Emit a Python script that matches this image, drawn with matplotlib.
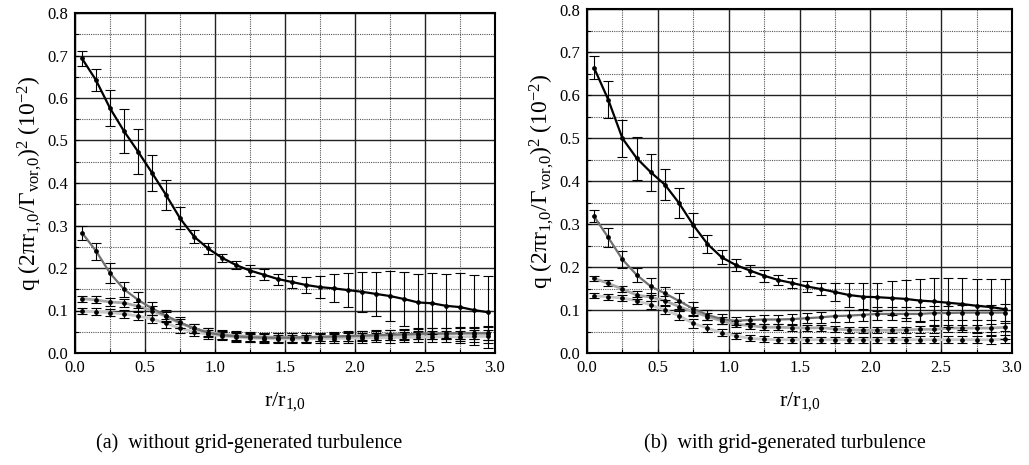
import numpy as np
import matplotlib
matplotlib.use("Agg")
import matplotlib.pyplot as plt
from matplotlib.ticker import MultipleLocator

plt.rcParams['font.family'] = ['Liberation Serif', 'DejaVu Serif']
plt.rcParams['mathtext.fontset'] = 'custom'
plt.rcParams['mathtext.rm'] = 'Liberation Serif'
plt.rcParams['mathtext.it'] = 'Liberation Serif:italic'

r = [0.05, 0.15, 0.25, 0.35, 0.45, 0.55, 0.65, 0.75, 0.85, 0.95,
     1.05, 1.15, 1.25, 1.35, 1.45, 1.55, 1.65, 1.75, 1.85, 1.95,
     2.05, 2.15, 2.25, 2.35, 2.45, 2.55, 2.65, 2.75, 2.85, 2.95]

# ---- panel (a): without grid-generated turbulence ----
a_black = [0.693, 0.642, 0.576, 0.522, 0.474, 0.424, 0.372, 0.317, 0.274, 0.246,
           0.224, 0.207, 0.194, 0.184, 0.174, 0.167, 0.160, 0.155, 0.152, 0.148,
           0.144, 0.139, 0.134, 0.127, 0.119, 0.117, 0.111, 0.108, 0.101, 0.096]
a_black_err = [0.018, 0.026, 0.042, 0.052, 0.052, 0.042, 0.036, 0.026, 0.016, 0.012,
               0.010, 0.010, 0.012, 0.013, 0.013, 0.015, 0.018, 0.026, 0.033, 0.040,
               0.047, 0.052, 0.058, 0.064, 0.068, 0.072, 0.076, 0.080, 0.082, 0.085]
a_gray = [0.283, 0.240, 0.188, 0.150, 0.125, 0.105, 0.088, 0.072, 0.058, 0.048,
          0.042, 0.039, 0.037, 0.036, 0.036, 0.036, 0.037, 0.038, 0.039, 0.040,
          0.041, 0.042, 0.043, 0.044, 0.045, 0.046, 0.046, 0.047, 0.047, 0.047]
a_gray_err = [0.017, 0.020, 0.023, 0.018, 0.018, 0.015, 0.014, 0.012, 0.011, 0.010,
              0.010, 0.010, 0.010, 0.010, 0.010, 0.010, 0.010, 0.010, 0.011, 0.011,
              0.011, 0.012, 0.012, 0.012, 0.013, 0.013, 0.014, 0.014, 0.015, 0.016]
a_light1 = [0.128, 0.125, 0.120, 0.118, 0.110, 0.100, 0.086, 0.070, 0.058, 0.049,
            0.044, 0.041, 0.039, 0.038, 0.037, 0.037, 0.037, 0.038, 0.038, 0.039,
            0.040, 0.041, 0.042, 0.043, 0.044, 0.045, 0.045, 0.046, 0.046, 0.046]
a_light2 = [0.099, 0.097, 0.095, 0.092, 0.087, 0.080, 0.070, 0.058, 0.050, 0.044,
            0.040, 0.037, 0.035, 0.034, 0.033, 0.033, 0.033, 0.034, 0.034, 0.035,
            0.035, 0.036, 0.036, 0.037, 0.037, 0.038, 0.038, 0.038, 0.039, 0.039]
a_light_err = [0.007, 0.008, 0.009, 0.010, 0.010, 0.010, 0.010, 0.010, 0.010, 0.010,
               0.010, 0.010, 0.010, 0.010, 0.010, 0.010, 0.010, 0.010, 0.010, 0.011,
               0.011, 0.011, 0.012, 0.012, 0.012, 0.013, 0.013, 0.014, 0.014, 0.015]

# ---- panel (b): with grid-generated turbulence ----
b_black = [0.664, 0.590, 0.500, 0.454, 0.421, 0.392, 0.349, 0.298, 0.254, 0.223,
           0.205, 0.192, 0.180, 0.170, 0.163, 0.155, 0.149, 0.142, 0.135, 0.131,
           0.130, 0.128, 0.126, 0.122, 0.120, 0.117, 0.114, 0.110, 0.107, 0.102]
b_black_err = [0.027, 0.043, 0.043, 0.050, 0.043, 0.036, 0.035, 0.028, 0.020, 0.016,
               0.013, 0.013, 0.014, 0.012, 0.011, 0.012, 0.013, 0.020, 0.027, 0.031,
               0.033, 0.040, 0.045, 0.050, 0.055, 0.057, 0.060, 0.063, 0.065, 0.070]
b_gray = [0.318, 0.269, 0.218, 0.182, 0.155, 0.139, 0.121, 0.103, 0.089, 0.079,
          0.075, 0.077, 0.078, 0.078, 0.079, 0.081, 0.083, 0.086, 0.087, 0.089,
          0.091, 0.091, 0.091, 0.091, 0.093, 0.093, 0.094, 0.094, 0.094, 0.094]
b_gray_err = [0.014, 0.022, 0.020, 0.016, 0.020, 0.015, 0.018, 0.015, 0.012, 0.011,
              0.010, 0.010, 0.010, 0.011, 0.011, 0.012, 0.012, 0.013, 0.014, 0.014,
              0.015, 0.015, 0.016, 0.016, 0.017, 0.017, 0.018, 0.018, 0.018, 0.019]
b_light1 = [0.174, 0.162, 0.149, 0.135, 0.130, 0.122, 0.108, 0.096, 0.085, 0.075,
            0.067, 0.064, 0.060, 0.060, 0.059, 0.058, 0.059, 0.056, 0.054, 0.053,
            0.053, 0.053, 0.054, 0.055, 0.055, 0.058, 0.058, 0.058, 0.058, 0.060]
b_light2 = [0.133, 0.131, 0.128, 0.122, 0.112, 0.100, 0.087, 0.069, 0.058, 0.047,
            0.040, 0.034, 0.032, 0.031, 0.031, 0.031, 0.031, 0.031, 0.031, 0.031,
            0.031, 0.031, 0.031, 0.031, 0.031, 0.031, 0.031, 0.031, 0.031, 0.032]
b_light_err = [0.006, 0.007, 0.008, 0.009, 0.010, 0.010, 0.010, 0.010, 0.009, 0.008,
               0.007, 0.007, 0.007, 0.007, 0.007, 0.007, 0.007, 0.007, 0.007, 0.007,
               0.007, 0.007, 0.007, 0.008, 0.008, 0.008, 0.008, 0.008, 0.009, 0.009]

xticks = [0.0, 0.5, 1.0, 1.5, 2.0, 2.5, 3.0]
yticks = [0.0, 0.1, 0.2, 0.3, 0.4, 0.5, 0.6, 0.7, 0.8]
ylabel = r'q (2πr$_{1{,}0}$/Γ$_{\mathrm{vor{,}0}}$)$^{2}$ (10$^{\mathrm{-}2}$)'
xlabel = r'r/r$_{1{,}0}$'
captions = ['(a)  without grid-generated turbulence', '(b)  with grid-generated turbulence']

fig = plt.figure(figsize=(10.29, 4.65), dpi=100)
W, H = 1029, 465
axA = fig.add_axes([75 / W, 1 - 353 / H, 420 / W, 340 / H])
axB = fig.add_axes([587 / W, 1 - 353 / H, 425 / W, 343.5 / H])

series_styles = [('#000000', 1.6, 3), ('#707070', 1.6, 2), ('#a9a9a9', 2.0, 1), ('#c8c8c8', 2.0, 0)]


def draw(ax, datasets):
    for (y, e), (col, lw, z) in zip(datasets, series_styles):
        ax.errorbar(r, y, yerr=e, color=col, lw=lw, ecolor='black', elinewidth=0.8,
                    capsize=3.5, capthick=0.8, marker='o', ms=2.4, mfc='black', mec='black',
                    zorder=3 + z)
    ax.set_xlim(0, 3.0)
    ax.set_ylim(0, 0.8)
    ax.set_xticks(xticks)
    ax.set_xticklabels([f'{v:.1f}' for v in xticks])
    ax.set_yticks(yticks)
    ax.set_yticklabels([f'{v:.1f}' for v in yticks])
    ax.xaxis.set_minor_locator(MultipleLocator(0.25))
    ax.yaxis.set_minor_locator(MultipleLocator(0.05))
    ax.grid(True, which='major', color='#222222', lw=1.0, ls='-', zorder=0)
    ax.grid(True, which='minor', color='#555555', lw=0.8, ls=(0, (1, 1)), zorder=0)
    ax.set_axisbelow(True)
    ax.tick_params(which='both', direction='in', labelsize=12, length=3, width=0.8,
                   top=False, right=False)
    ax.tick_params(which='major', pad=5)
    for s in ax.spines.values():
        s.set_linewidth(1.5)
        s.set_color('black')
    ax.set_ylabel(ylabel, fontsize=17, labelpad=2)
    ax.set_xlabel(xlabel, fontsize=16, labelpad=10)


draw(axA, [(a_black, a_black_err), (a_gray, a_gray_err),
           (a_light1, a_light_err), (a_light2, a_light_err)])
draw(axB, [(b_black, b_black_err), (b_gray, b_gray_err),
           (b_light1, b_light_err), (b_light2, b_light_err)])

fig.text(249 / W, 1 - 443 / H, captions[0], ha='center', va='center', fontsize=14.5)
fig.text(785 / W, 1 - 443 / H, captions[1], ha='center', va='center', fontsize=14.5)

fig.savefig('out.png', dpi=100)
